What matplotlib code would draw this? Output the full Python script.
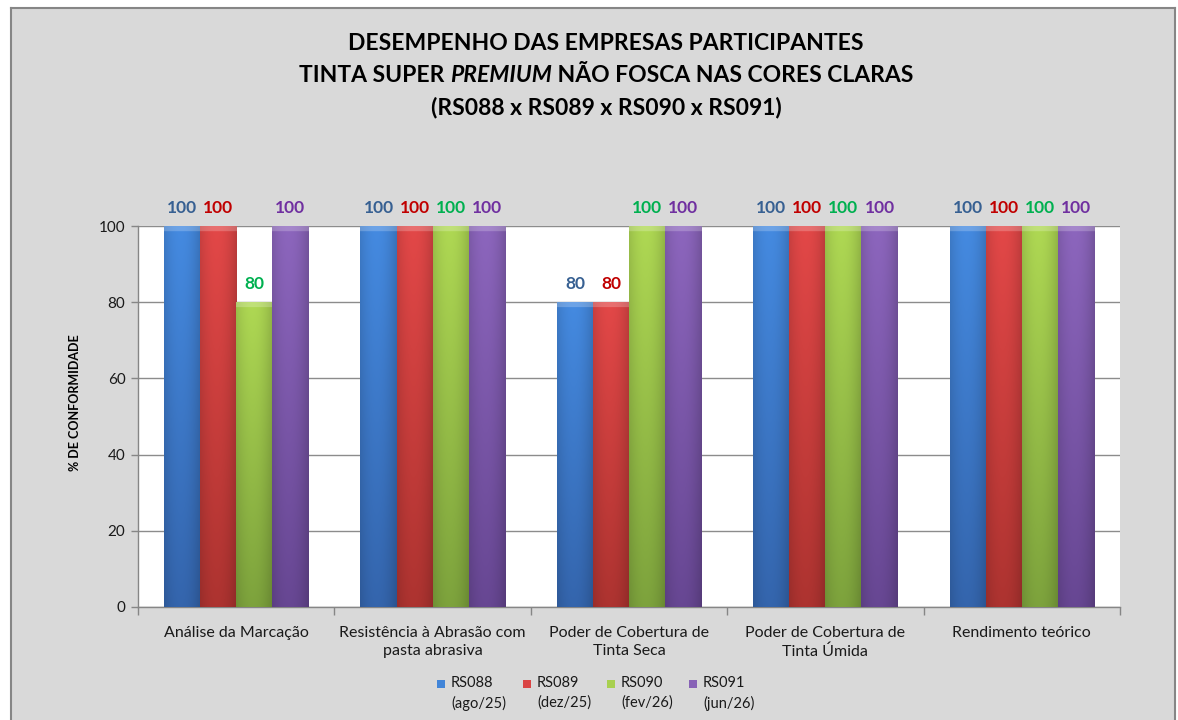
import numpy as np
import matplotlib.pyplot as plt
from matplotlib.patches import Rectangle
from matplotlib.lines import Line2D
from matplotlib.colors import to_rgb

plt.rcParams['font.family'] = ['Lato', 'DejaVu Sans']

# Dados do gráfico
categorias = ["Análise da Marcação",
              "Resistência à Abrasão com\npasta abrasiva",
              "Poder de Cobertura de\nTinta Seca",
              "Poder de Cobertura de\nTinta Úmida",
              "Rendimento teórico"]
rodadas = ["RS088", "RS089", "RS090", "RS091"]
periodos = ["(ago/25)", "(dez/25)", "(fev/26)", "(jun/26)"]
rs088 = [100, 100, 80, 100, 100]
rs089 = [100, 100, 80, 100, 100]
rs090 = [80, 100, 100, 100, 100]
rs091 = [100, 100, 100, 100, 100]
series = [rs088, rs089, rs090, rs091]

# Cores (topo, base, rótulo)
cores_topo = ["#4285D8", "#DA4545", "#A8D050", "#8762B6"]
cores_base = ["#3261A6", "#A6312E", "#789C3A", "#63448D"]
cores_rotulo = ["#376092", "#C00000", "#00B050", "#7030A0"]


def barra_gradiente(ax, bar, c_top, c_bot):
    x0, y0 = bar.get_x(), bar.get_y()
    w, h = bar.get_width(), bar.get_height()
    ny, nx = 300, 40
    t = np.linspace(0, 1, ny)[:, None, None]
    s = np.linspace(0, 1, nx)[None, :, None]
    top = np.array(to_rgb(c_top))
    bot = np.array(to_rgb(c_bot))
    img = bot + (top - bot) * t
    shade = 0.86 + 0.18 * np.clip(1 - ((s - 0.45) / 0.55) ** 2, 0, 1)
    img = img * shade
    # chanfro no topo
    bevel = (h - t[:, 0, 0] * h) < 1.1
    img[bevel] = img[bevel] * 0.78 + 0.22
    img = np.clip(img, 0, 1)
    ax.imshow(img, origin='lower', extent=(x0, x0 + w, y0, y0 + h),
              aspect='auto', interpolation='bilinear', zorder=3)


W, H = 1178, 720
fig = plt.figure(figsize=(W / 100, H / 100), dpi=100)
fig.patch.set_facecolor('#D9D9D9')
# margens brancas e borda do quadro
for ret in [(0, 0, 10 / W, 1), (0, 1 - 7 / H, 1, 7 / H), (1175 / W, 0, 3 / W, 1)]:
    fig.patches.append(Rectangle(ret[:2], ret[2], ret[3], transform=fig.transFigure,
                                 facecolor='white', edgecolor='none'))
borda = dict(transform=fig.transFigure, color='#868686', lw=1.5)
fig.lines.append(Line2D([10.5 / W, 10.5 / W], [0, 1 - 7.5 / H], **borda))
fig.lines.append(Line2D([10.5 / W, 1174.5 / W], [1 - 7.5 / H, 1 - 7.5 / H], **borda))
fig.lines.append(Line2D([1174.5 / W, 1174.5 / W], [0, 1 - 7.5 / H], **borda))

ax = fig.add_axes([138 / W, 1 - 607 / H, (1120 - 138) / W, (607 - 226) / H])
ax.set_facecolor('white')

x = np.arange(len(categorias))
largura = 36 / 196
for i, (vals, ct, cb, cr) in enumerate(zip(series, cores_topo, cores_base, cores_rotulo)):
    bars = ax.bar(x + (i - 1.5) * largura, vals, largura, color=ct,
                  edgecolor='none', zorder=2)
    for b in bars:
        barra_gradiente(ax, b, ct, cb)
        ax.annotate(f"{b.get_height():.0f}",
                    (b.get_x() + b.get_width() / 2, b.get_height()),
                    xytext=(0, 7), textcoords='offset points',
                    ha='center', va='bottom', fontsize=12.5,
                    fontweight='bold', color=cr, annotation_clip=False)

ax.set_xlim(-0.5, len(categorias) - 0.5)
ax.set_ylim(0, 100)
ax.set_yticks(range(0, 101, 20))
ax.yaxis.grid(True, color='#8C8C8C', linewidth=1)
ax.set_axisbelow(True)
ax.set_xticks(x)
ax.set_xticklabels(categorias, fontsize=11.5, color='#1A1A1A', linespacing=1.35)
ax.set_xticks(np.arange(-0.5, len(categorias)), minor=True)
ax.tick_params(axis='x', which='major', length=0, pad=14)
ax.tick_params(axis='x', which='minor', length=6, color='#868686', width=1)
ax.tick_params(axis='y', length=5, color='#868686', width=1, labelsize=11,
               labelcolor='#1A1A1A', pad=4)
for lado in ['top', 'right']:
    ax.spines[lado].set_visible(False)
for lado in ['left', 'bottom']:
    ax.spines[lado].set_color('#868686')
    ax.spines[lado].set_linewidth(1)

fig.text(75 / W, 1 - 403 / H, "% DE CONFORMIDADE", rotation=90,
         ha='center', va='center', fontsize=9, fontweight='bold')

# Título
cx = 606 / W
tam = 16.5
fig.text(cx, 1 - 44 / H, "DESEMPENHO DAS EMPRESAS PARTICIPANTES",
         ha='center', va='center', fontsize=tam, fontweight='bold')
fig.text(cx, 1 - 108 / H, "(RS088 x RS089 x RS090 x RS091)",
         ha='center', va='center', fontsize=tam, fontweight='bold')

# segunda linha com PREMIUM em itálico
partes = [("TINTA SUPER ", 'normal'), ("PREMIUM", 'italic'),
          (" NÃO FOSCA NAS CORES CLARAS", 'normal')]
rend = fig.canvas.get_renderer()
textos = [fig.text(0, 1 - 76 / H, p, ha='left', va='center', fontsize=tam,
                   fontweight='bold', fontstyle=st) for p, st in partes]
larguras = [t.get_window_extent(rend).width for t in textos]
xpos = cx * W - sum(larguras) / 2
for t, lw_ in zip(textos, larguras):
    t.set_x(xpos / W)
    xpos += lw_

# Legenda
leg_x = [437, 523, 607, 689]
for lx, nome, per, ct in zip(leg_x, rodadas, periodos, cores_topo):
    fig.patches.append(Rectangle((lx / W, 1 - 688 / H), 8 / W, 8 / H,
                                 transform=fig.transFigure, facecolor=ct,
                                 edgecolor='none'))
    fig.text((lx + 14) / W, 1 - 683 / H, nome, ha='left', va='center',
             fontsize=10.5, color='#1A1A1A')
    fig.text((lx + 14) / W, 1 - 703 / H, per, ha='left', va='center',
             fontsize=10.5, color='#1A1A1A')

fig.savefig("out.png", dpi=100, facecolor=fig.get_facecolor())
